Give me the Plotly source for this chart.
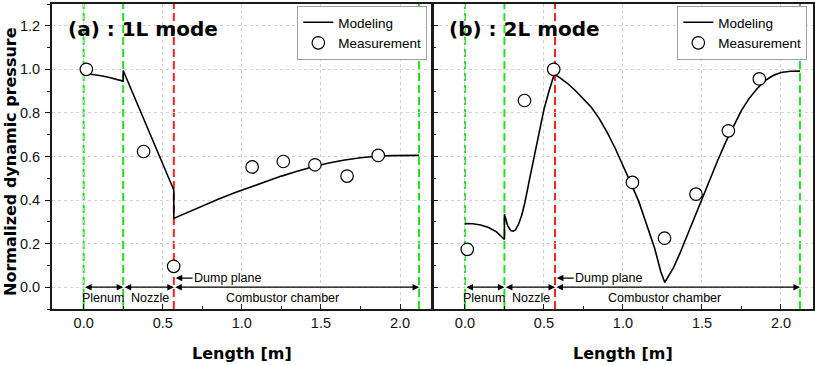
import plotly.graph_objects as go

# ---------------- data ----------------
# Section boundaries along the combustor [m]
boundaries = [0.0, 0.25, 0.57, 2.12]
boundary_colors = ["#22e022", "#22e022", "#ff2020", "#22e022"]
section_labels = ["Plenum", "Nozzle", "Combustor chamber"]
section_label_x = [0.12, 0.42, 1.26]

# (a) 1L mode - modeling
x_1l_model = [0.0, 0.05, 0.10, 0.15, 0.20, 0.25, 0.25, 0.57, 0.57, 0.65, 0.75, 0.85,
              0.95, 1.05, 1.15, 1.25, 1.35, 1.45, 1.55, 1.65, 1.75, 1.85, 1.95, 2.05, 2.12]
y_1l_model = [0.982, 0.978, 0.972, 0.965, 0.956, 0.946, 0.995, 0.446, 0.316, 0.342, 0.373, 0.404,
              0.432, 0.459, 0.485, 0.510, 0.532, 0.553, 0.570, 0.584, 0.594, 0.601, 0.604, 0.605, 0.605]
# (a) 1L mode - measurement
x_1l_meas = [0.017, 0.379, 0.569, 1.065, 1.262, 1.462, 1.665, 1.862]
y_1l_meas = [1.000, 0.623, 0.096, 0.552, 0.577, 0.562, 0.510, 0.605]

# (b) 2L mode - modeling
x_2l_model = [0.0, 0.05, 0.10, 0.15, 0.20, 0.25, 0.25, 0.27, 0.29, 0.305, 0.32, 0.34, 0.36, 0.38,
              0.41, 0.44, 0.47, 0.50, 0.53, 0.565, 0.60, 0.65, 0.70, 0.75, 0.80, 0.85, 0.90, 0.95,
              1.00, 1.05, 1.10, 1.15, 1.20, 1.24, 1.265, 1.29, 1.32, 1.36, 1.40, 1.45, 1.50, 1.55,
              1.60, 1.65, 1.70, 1.75, 1.80, 1.85, 1.90, 1.95, 2.00, 2.06, 2.12]
y_2l_model = [0.292, 0.291, 0.286, 0.274, 0.254, 0.219, 0.335, 0.284, 0.260, 0.257, 0.263, 0.290, 0.331, 0.390,
              0.500, 0.605, 0.710, 0.815, 0.895, 0.978, 0.962, 0.935, 0.902, 0.866, 0.826, 0.774, 0.711, 0.639,
              0.562, 0.478, 0.394, 0.290, 0.180, 0.070, 0.022, 0.053, 0.090, 0.155, 0.227, 0.312, 0.403, 0.495,
              0.583, 0.666, 0.743, 0.812, 0.868, 0.912, 0.949, 0.972, 0.986, 0.991, 0.992]
# (b) 2L mode - measurement
x_2l_meas = [0.015, 0.377, 0.562, 1.060, 1.263, 1.462, 1.667, 1.863]
y_2l_meas = [0.174, 0.857, 1.000, 0.481, 0.225, 0.427, 0.718, 0.956]

x_tick_vals = [0.0, 0.5, 1.0, 1.5, 2.0]
y_tick_vals = [0.0, 0.2, 0.4, 0.6, 0.8, 1.0, 1.2]
panel_titles = ["(a) : 1L mode", "(b) : 2L mode"]
x_title = "Length [m]"
y_title = "Normalized dynamic pressure"
dump_label = "Dump plane"

# ---------------- figure ----------------
W, H = 815, 365
REG = "Liberation Sans"
BOLD = "DejaVu Sans"
AX = "#1a1a1a"
GRID = "#d2d2d2"

fig = go.Figure()

panels = [
    dict(xa="x", ya="y", legend="legend", xm=x_1l_model, ym=y_1l_model, xs=x_1l_meas, ys=y_1l_meas),
    dict(xa="x2", ya="y2", legend="legend2", xm=x_2l_model, ym=y_2l_model, xs=x_2l_meas, ys=y_2l_meas),
]

for p in panels:
    fig.add_trace(go.Scatter(x=p["xm"], y=p["ym"], mode="lines", name="Modeling",
                             line=dict(color="black", width=1.6),
                             xaxis=p["xa"], yaxis=p["ya"], legend=p["legend"]))
    fig.add_trace(go.Scatter(x=p["xs"], y=p["ys"], mode="markers", name="Measurement",
                             marker=dict(symbol="circle", size=12.5, color="white",
                                         line=dict(color="black", width=1.2)),
                             xaxis=p["xa"], yaxis=p["ya"], legend=p["legend"]))

x_domains = [[52 / W, 431.7 / W], [433.3 / W, 812.6 / W]]
y_domain = [1 - 309 / H, 1 - 4 / H]

common_x = dict(range=[-0.2, 2.2], tickvals=x_tick_vals, tickformat=".1f",
                ticks="inside", ticklen=5, tickwidth=1.2, tickcolor=AX,
                showline=True, linecolor=AX, linewidth=2, mirror=True,
                showgrid=True, gridcolor=GRID, gridwidth=1, griddash="dot",
                zeroline=False, automargin=False,
                tickfont=dict(family=REG, size=14.5, color="#111"),
                minor=dict(dtick=0.25, tick0=0, ticks="inside", ticklen=3, tickwidth=1.2,
                           tickcolor=AX, showgrid=False))
common_y = dict(range=[-0.1, 1.3], tickvals=y_tick_vals, tickformat=".1f",
                ticklen=5, tickwidth=1.2, tickcolor=AX,
                showline=True, linecolor=AX, linewidth=2, mirror=True,
                showgrid=True, gridcolor=GRID, gridwidth=1, griddash="dot",
                zeroline=False, automargin=False,
                tickfont=dict(family=REG, size=14.5, color="#111"),
                domain=y_domain)

fig.update_layout(
    xaxis=dict(common_x, domain=x_domains[0], anchor="y"),
    yaxis=dict(common_y, anchor="x", ticks="outside", ticklabelstandoff=2,
               minor=dict(dtick=0.1, tick0=0, ticks="outside", ticklen=3, tickwidth=1.2,
                          tickcolor=AX, showgrid=False)),
    xaxis2=dict(common_x, domain=x_domains[1], anchor="y2"),
    yaxis2=dict(common_y, anchor="x2", ticks="inside", showticklabels=False,
                minor=dict(dtick=0.1, tick0=0, ticks="inside", ticklen=3, tickwidth=1.2,
                           tickcolor=AX, showgrid=False)),
)

legend_style = dict(xanchor="right", y=1 - 6 / H, yanchor="top", bgcolor="white",
                    bordercolor="#a0a0a0", borderwidth=1, tracegroupgap=0, itemwidth=30,
                    font=dict(family=REG, size=13.5, color="black"))
fig.update_layout(legend=dict(legend_style, x=427.3 / W),
                  legend2=dict(legend_style, x=807.3 / W))

shapes = []
annotations = []
for i, p in enumerate(panels):
    xa, ya = p["xa"], p["ya"]
    # vertical dashed section boundaries
    for b, c in zip(boundaries, boundary_colors):
        shapes.append(dict(type="line", xref=xa, yref=f"{ya} domain", x0=b, x1=b, y0=0, y1=1,
                           line=dict(color=c, width=2, dash="8px,4px"), layer="below"))
    # double-headed arrows along y=0
    for b0, b1 in zip(boundaries[:-1], boundaries[1:]):
        annotations.append(dict(xref=xa, yref=ya, axref=xa, ayref=ya, x=b1, y=0, ax=b0, ay=0,
                                text="", showarrow=True, arrowside="end+start", arrowhead=2,
                                startarrowhead=2, arrowsize=1, startarrowsize=1, arrowwidth=1.3,
                                arrowcolor="black", standoff=0, startstandoff=0))
    # section labels
    for lab, lx in zip(section_labels, section_label_x):
        annotations.append(dict(xref=xa, yref=ya, x=lx, y=-0.048, text=lab, showarrow=False,
                                font=dict(family=REG, size=12.5, color="black")))
    # dump plane marker
    annotations.append(dict(xref=xa, yref=ya, axref=xa, ayref=ya, x=boundaries[2] + 0.012, y=0.042,
                            ax=0.91, ay=0.042, text=dump_label, showarrow=True, arrowhead=2,
                            arrowsize=1, arrowwidth=1.3, arrowcolor="black", standoff=0,
                            font=dict(family=REG, size=12.5, color="black")))
    # panel title
    annotations.append(dict(xref=f"{xa} domain", yref=f"{ya} domain", x=0.037, y=0.918,
                            xanchor="left", yanchor="middle", text=f"<b>{panel_titles[i]}</b>",
                            showarrow=False, font=dict(family=BOLD, size=20, color="black")))

# axis titles
for cx in [241.8, 623.0]:
    annotations.append(dict(xref="paper", yref="paper", x=cx / W, y=1 - 353 / H,
                            text=f"<b>{x_title}</b>", showarrow=False,
                            xanchor="center", yanchor="middle",
                            font=dict(family=BOLD, size=16, color="black")))
annotations.append(dict(xref="paper", yref="paper", x=10.5 / W, y=1 - 161.5 / H,
                        text=f"<b>{y_title}</b>", showarrow=False, textangle=-90,
                        xanchor="center", yanchor="middle",
                        font=dict(family=BOLD, size=16, color="black")))

fig.update_layout(shapes=shapes, annotations=annotations,
                  width=W, height=H, margin=dict(l=0, r=0, t=0, b=0),
                  paper_bgcolor="white", plot_bgcolor="white",
                  font=dict(family=REG, color="black"))

fig.write_html("out.html", config={"displayModeBar": False},
               post_script="document.body.style.margin='0';document.body.style.padding='0';")
